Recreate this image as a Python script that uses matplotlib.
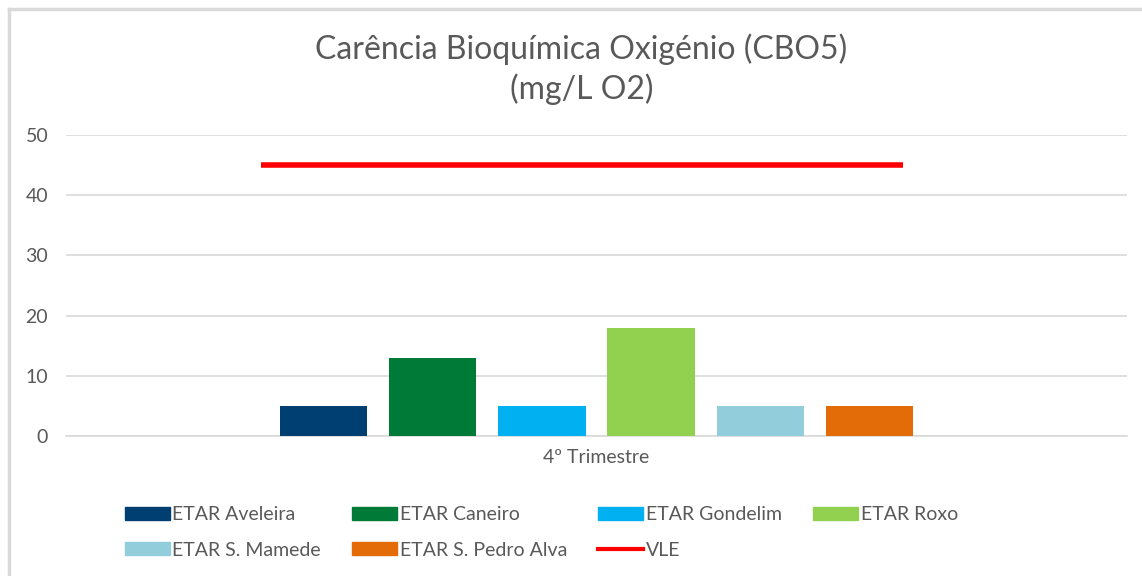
import matplotlib.pyplot as plt
import numpy as np
from matplotlib.lines import Line2D

plt.rcParams['font.family'] = ['Lato', 'DejaVu Sans']

# data
category = '4º Trimestre'
stations = ['ETAR Aveleira', 'ETAR Caneiro', 'ETAR Gondelim', 'ETAR Roxo',
            'ETAR S. Mamede', 'ETAR S. Pedro Alva']
values = [5, 13, 5, 18, 5, 5]
colors = ['#003F72', '#007A37', '#00B0F0', '#92D050', '#92CDDC', '#E36C09']
vle = 45

text_col = '#595959'
grid_col = '#D9D9D9'

fig = plt.figure(figsize=(11.42, 5.76), dpi=100)
ax = fig.add_axes([0.058, 0.243, 0.929, 0.523])

n = len(values)
x = np.arange(n) - (n - 1) / 2
bars = ax.bar(x, values, width=0.8, color=colors, zorder=3)

# VLE limit line
ax.hlines(vle, x[0] - 0.57, x[-1] + 0.31, color='#FF0000', lw=4, zorder=4)

ax.set_ylim(0, 50)
ax.set_yticks(range(0, 51, 10))
ax.set_xlim(-4.858, 4.862)
ax.set_xticks([0])
ax.set_xticklabels([category])
ax.grid(axis='y', color=grid_col, lw=1.2, zorder=0)
for s in ['top', 'right', 'left']:
    ax.spines[s].set_visible(False)
ax.spines['bottom'].set_color(grid_col)
ax.spines['bottom'].set_linewidth(1.2)
ax.tick_params(length=0, labelsize=14, colors=text_col, pad=9)
ax.tick_params(axis='y', pad=13)

fig.text(0.509, 0.880, 'Carência Bioquímica Oxigénio (CBO5)\n(mg/L O2)',
         ha='center', va='center', fontsize=23, color=text_col, linespacing=1.3)

# legend, reordered so rows fill left to right
handles = [plt.Rectangle((0, 0), 1, 1, color=c) for c in colors]
vle_handle = Line2D([0], [0], color='#FF0000', lw=3)
labels = stations + ['VLE']
hs = handles + [vle_handle]
order = [0, 4, 1, 5, 2, 6, 3]
leg = fig.legend([hs[i] for i in order], [labels[i] for i in order],
                 ncol=4, loc='lower left', bbox_to_anchor=(0.094, 0.0),
                 frameon=False, fontsize=14, handlelength=2.3, handleheight=0.65,
                 handletextpad=0.15, columnspacing=1.6, labelspacing=0.95)
for t in leg.get_texts():
    t.set_color(text_col)

# chart border (top and left edges visible)
fig.add_artist(Line2D([0.008, 0.008], [0, 0.985], color=grid_col, lw=2.5,
                      transform=fig.transFigure))
fig.add_artist(Line2D([0.008, 1], [0.985, 0.985], color=grid_col, lw=2.5,
                      transform=fig.transFigure))

fig.savefig('out.png', dpi=100)
